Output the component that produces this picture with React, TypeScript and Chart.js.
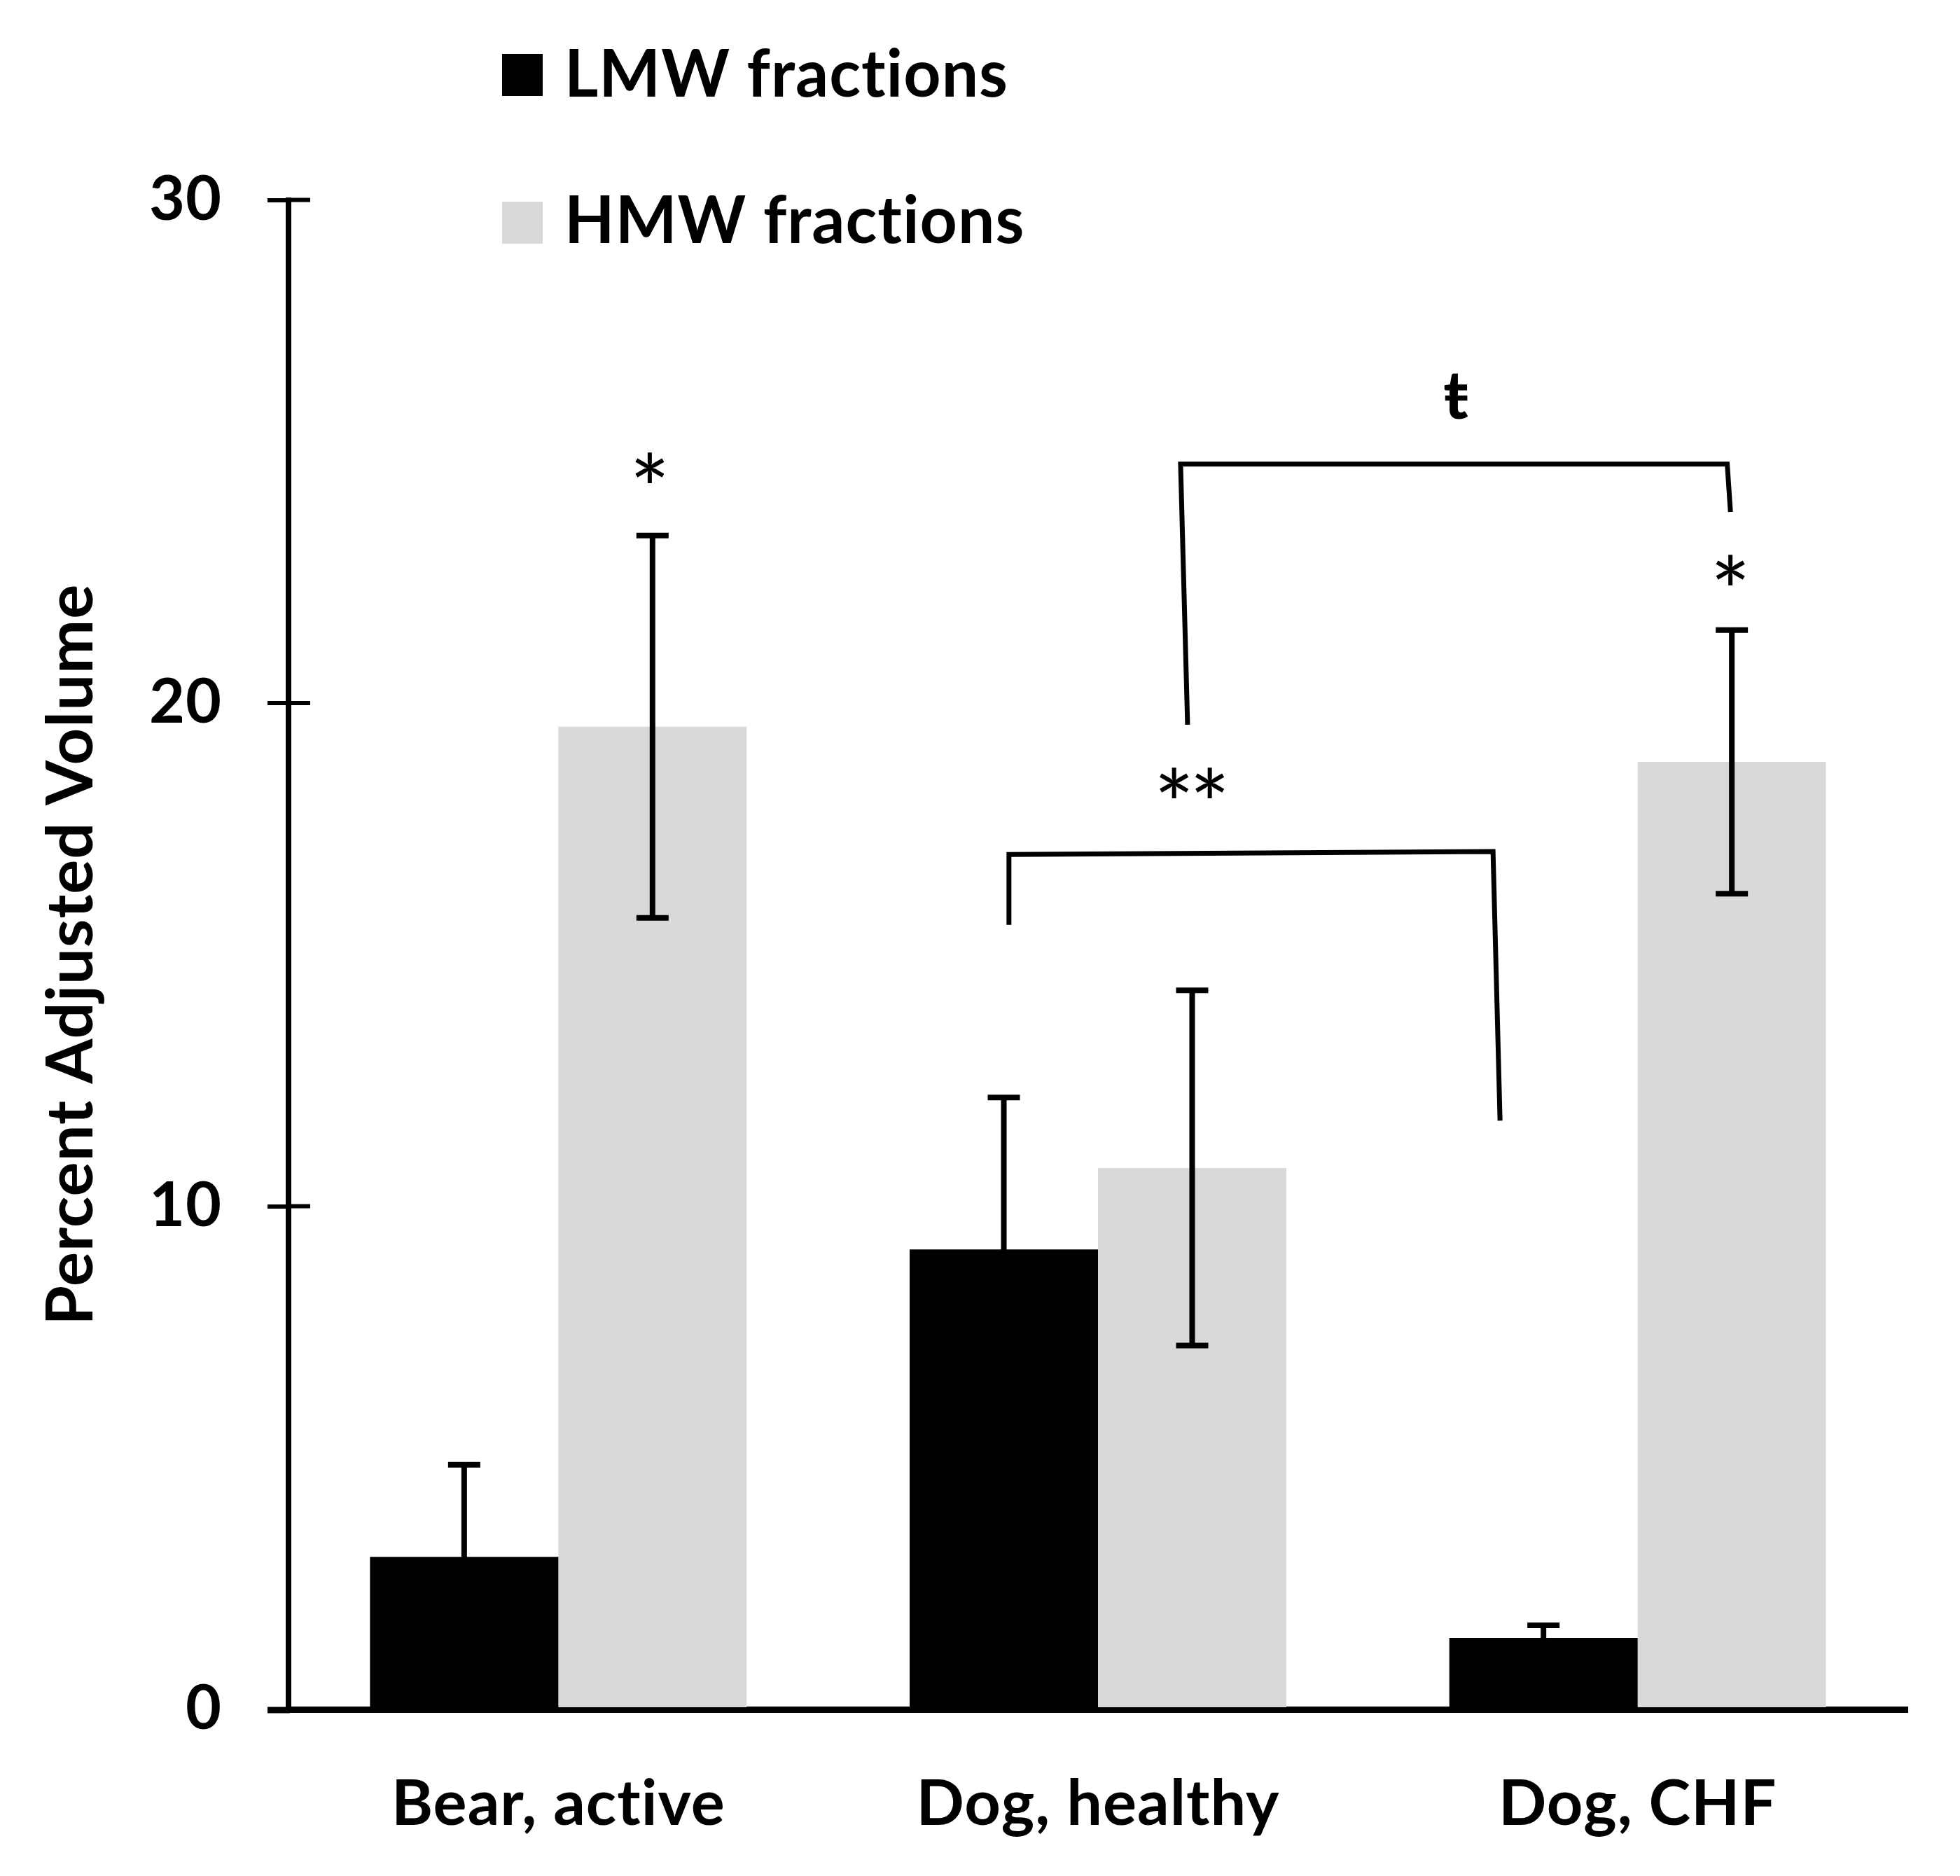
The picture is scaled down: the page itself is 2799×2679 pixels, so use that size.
import React, { useEffect, useRef } from 'react';
import { Chart, registerables } from 'chart.js';

Chart.register(...registerables);

const categories = ['Bear, active', 'Dog, healthy', 'Dog, CHF'];
const seriesNames = ['LMW fractions', 'HMW fractions'];
const seriesColors = ['#000000', '#d9d9d9'];
const lmwValues = [3.03, 9.14, 1.42];
const lmwErrors = [1.83, 3.02, 0.25];
const hmwValues = [19.53, 10.76, 18.83];
const hmwErrors = [3.8, 3.53, 2.62];
const yTicks = [0, 10, 20, 30];
const yAxisTitle = 'Percent Adjusted Volume';

// significance markers: category position (fractional index), value, text
const markerCats = [0.1695, 2.172, 1.174, 1.663];
const markerValues = [24.68, 22.64, 18.41, 26.1];
const markerTexts = ['*', '*', '**', 'ŧ'];

// brackets: polylines in (category position, value)
const bracket1Cats = [0.835, 0.835, 1.732, 1.745];
const bracket1Values = [15.59, 16.99, 17.05, 11.7];
const bracket2Cats = [1.166, 1.153, 2.166, 2.172];
const bracket2Values = [19.57, 24.75, 24.75, 23.8];

const FONT = 'Lato';

const overlayPlugin = {
  id: 'overlay',
  beforeDraw(chart: any) {
    const ctx = chart.ctx;
    ctx.letterSpacing = '1px';
  },
  afterDatasetsDraw(chart: any) {
    const ctx = chart.ctx;
    const xs = chart.scales.x;
    const ys = chart.scales.y;
    ctx.save();
    ctx.strokeStyle = '#000';
    ctx.fillStyle = '#000';
    ctx.lineCap = 'butt';
    // error bars
    const errs = [lmwErrors, hmwErrors];
    chart.data.datasets.forEach((ds: any, di: number) => {
      const meta = chart.getDatasetMeta(di);
      meta.data.forEach((bar: any, i: number) => {
        const v = ds.data[i];
        const e = errs[di][i];
        const x = bar.x;
        const yT = ys.getPixelForValue(v + e);
        const yB = ys.getPixelForValue(v - e);
        ctx.lineWidth = 8;
        ctx.beginPath();
        ctx.moveTo(x, yT);
        ctx.lineTo(x, yB);
        ctx.stroke();
        ctx.beginPath();
        ctx.moveTo(x - 23, yT);
        ctx.lineTo(x + 23, yT);
        ctx.moveTo(x - 23, yB);
        ctx.lineTo(x + 23, yB);
        ctx.stroke();
      });
    });
    // brackets
    ctx.lineWidth = 7;
    ctx.lineJoin = 'miter';
    [[bracket1Cats, bracket1Values], [bracket2Cats, bracket2Values]].forEach(([cs, vs]) => {
      ctx.beginPath();
      cs.forEach((c: number, k: number) => {
        const px = xs.getPixelForValue(c);
        const py = ys.getPixelForValue(vs[k]);
        if (k === 0) ctx.moveTo(px, py);
        else ctx.lineTo(px, py);
      });
      ctx.stroke();
    });
    // markers
    ctx.letterSpacing = '0px';
    markerTexts.forEach((t, k) => {
      const px = xs.getPixelForValue(markerCats[k]);
      const py = ys.getPixelForValue(markerValues[k]);
      ctx.textAlign = 'center';
      ctx.textBaseline = 'alphabetic';
      if (t === 'ŧ') {
        ctx.font = `bold 96px ${FONT}`;
        const m = ctx.measureText(t);
        ctx.fillText(t, px, py + (m.actualBoundingBoxAscent - m.actualBoundingBoxDescent) / 2);
      } else {
        ctx.font = `normal 136px ${FONT}`;
        const m = ctx.measureText('*');
        const dy = (m.actualBoundingBoxAscent - m.actualBoundingBoxDescent) / 2;
        const n = t.length;
        const gap = 51;
        for (let j = 0; j < n; j++) {
          const ox = (j - (n - 1) / 2) * gap;
          ctx.fillText('*', px + ox, py + dy);
        }
      }
    });
    // inner halves of y ticks and x-axis extension
    const left = chart.chartArea.left;
    ctx.lineWidth = 6;
    yTicks.forEach((v) => {
      if (v === 0) return;
      const py = ys.getPixelForValue(v);
      ctx.beginPath();
      ctx.moveTo(left, py);
      ctx.lineTo(left + 31, py);
      ctx.stroke();
    });
    ctx.lineWidth = 9;
    const y0 = ys.getPixelForValue(0);
    ctx.beginPath();
    ctx.moveTo(left - 30, y0 + 1);
    ctx.lineTo(left + 2, y0 + 1);
    ctx.stroke();
    ctx.restore();
  },
  afterDraw(chart: any) {
    const ctx = chart.ctx;
    ctx.save();
    const boxTops = [77, 288];
    const baselines = [138, 347];
    chart.data.datasets.forEach((ds: any, i: number) => {
      ctx.fillStyle = ds.backgroundColor;
      ctx.fillRect(717, boxTops[i], 58, 60);
      ctx.fillStyle = '#000';
      ctx.font = `bold 93px ${FONT}`;
      ctx.letterSpacing = '1px';
      ctx.textAlign = 'left';
      ctx.textBaseline = 'alphabetic';
      ctx.fillText(ds.label, 806, baselines[i]);
    });
    ctx.restore();
  },
};

export default function App() {
  const ref = useRef<HTMLCanvasElement | null>(null);
  useEffect(() => {
    document.body.style.margin = '0';
    const canvas = ref.current;
    if (!canvas) return;
    const font = { family: FONT, weight: 'bold' as const, size: 88 };
    const chart = new Chart(canvas, {
      type: 'bar',
      data: {
        labels: categories,
        datasets: [
          { label: seriesNames[0], data: lmwValues, backgroundColor: seriesColors[0], borderWidth: 0 },
          { label: seriesNames[1], data: hmwValues, backgroundColor: seriesColors[1], borderWidth: 0 },
        ],
      },
      options: {
        responsive: false,
        animation: false,
        devicePixelRatio: 1,
        layout: { padding: { top: 285.5, right: 75, left: 0, bottom: 0 } },
        plugins: { legend: { display: false }, tooltip: { enabled: false } },
        datasets: { bar: { categoryPercentage: 0.698, barPercentage: 1 } },
        scales: {
          x: {
            grid: { display: false },
            border: { display: true, color: '#000', width: 9 },
            ticks: { font: { ...font, size: 90 }, color: '#000', padding: 74, maxRotation: 0, autoSkip: false },
            afterFit: (s: any) => { s.height = 238; },
          },
          y: {
            min: 0,
            max: 30,
            afterBuildTicks: (s: any) => { s.ticks = yTicks.map((v) => ({ value: v })); },
            grid: { drawOnChartArea: false, drawTicks: true, tickLength: 30, tickWidth: 6, tickColor: '#000', color: '#000', lineWidth: 6 },
            border: { display: true, color: '#000', width: 8 },
            ticks: { font, color: '#000', padding: 65 },
            title: { display: true, text: yAxisTitle, font: { ...font, size: 92 }, color: '#000', padding: { top: 47, bottom: 0 } },
            afterFit: (s: any) => { s.width = 412; },
          },
        },
      } as any,
      plugins: [overlayPlugin],
    });
    return () => chart.destroy();
  }, []);
  return (
    <div style={{ width: 2799, height: 2679, background: '#fff' }}>
      <canvas ref={ref} width={2799} height={2679} style={{ display: 'block', width: 2799, height: 2679 }} />
    </div>
  );
}
